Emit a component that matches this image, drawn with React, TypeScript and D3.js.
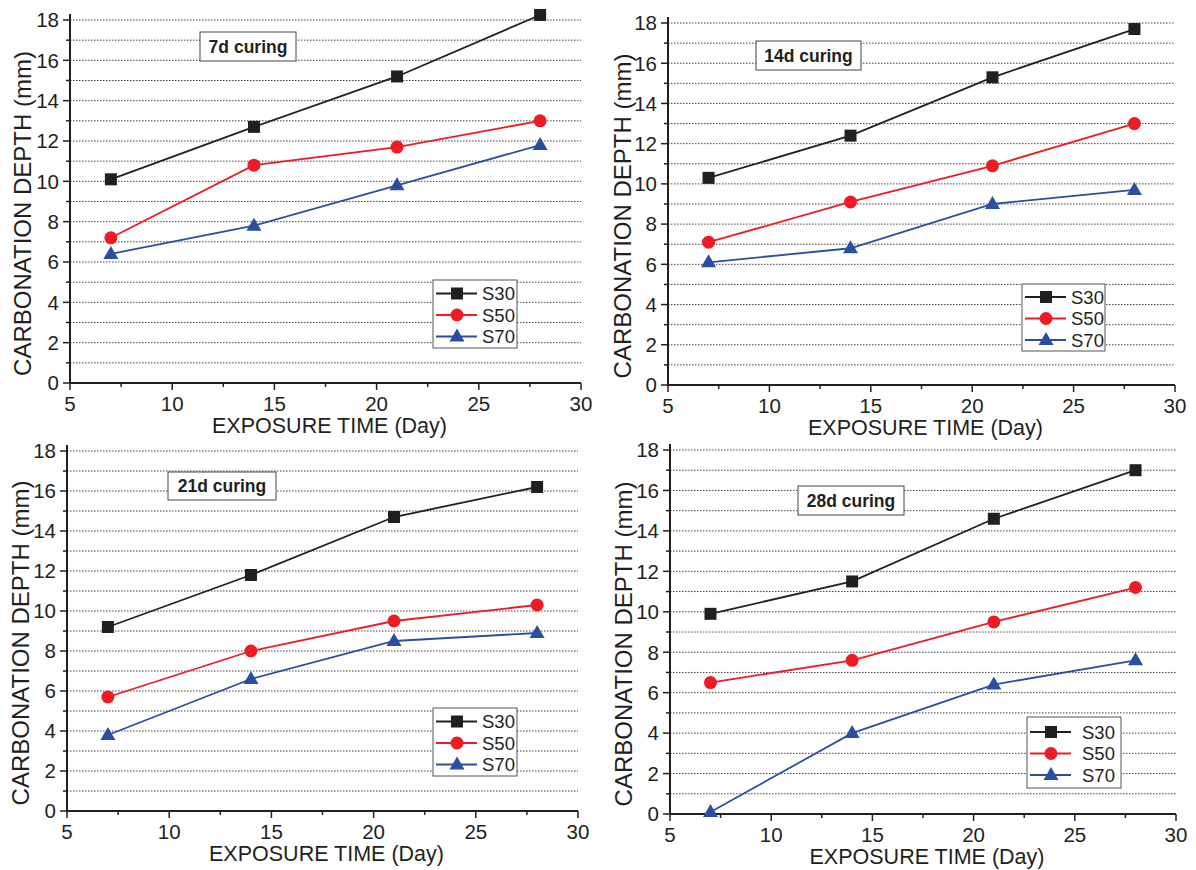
import React from "react";
import * as d3 from "d3";

const exposureDays = [7, 14, 21, 28];
const seriesNames = ["S30", "S50", "S70"];
const panelTitles = ["7d curing", "14d curing", "21d curing", "28d curing"];
const xTicks = [5, 10, 15, 20, 25, 30];
const yTicks = [0, 2, 4, 6, 8, 10, 12, 14, 16, 18];

const cure7_S30 = [10.1, 12.7, 15.2, 18.25];
const cure7_S50 = [7.2, 10.8, 11.7, 13.0];
const cure7_S70 = [6.4, 7.8, 9.8, 11.8];

const cure14_S30 = [10.3, 12.4, 15.3, 17.7];
const cure14_S50 = [7.1, 9.1, 10.9, 13.0];
const cure14_S70 = [6.1, 6.8, 9.0, 9.7];

const cure21_S30 = [9.2, 11.8, 14.7, 16.2];
const cure21_S50 = [5.7, 8.0, 9.5, 10.3];
const cure21_S70 = [3.8, 6.6, 8.5, 8.9];

const cure28_S30 = [9.9, 11.5, 14.6, 17.0];
const cure28_S50 = [6.5, 7.6, 9.5, 11.2];
const cure28_S70 = [0.1, 4.0, 6.4, 7.6];

const colors = ["#231f20", "#ed1c24", "#2b4ea0"];
const FONT = "Arial, 'Liberation Sans', Helvetica, sans-serif";

type Layout = {
  x0: number; x1: number; yT: number; yB: number;
  title: [number, number, number, number];
  legend: [number, number, number, number];
  legendText: number;
  yLabX: number;
};

const layouts: Layout[] = [
  { x0: 70, x1: 581, yT: 20, yB: 383, title: [200, 32, 96, 29], legend: [433, 280, 84, 68], legendText: 49, yLabX: 22 },
  { x0: 668, x1: 1175, yT: 23, yB: 385, title: [756, 41, 105, 29], legend: [1022, 284, 83, 67], legendText: 49, yLabX: 622 },
  { x0: 67, x1: 578, yT: 451, yB: 811, title: [168, 472, 108, 28], legend: [433, 708, 84, 68], legendText: 49, yLabX: 20 },
  { x0: 670, x1: 1176, yT: 450, yB: 814, title: [798, 486, 106, 29], legend: [1027, 717, 94, 71], legendText: 55, yLabX: 623 },
];

const panelData = [
  [cure7_S30, cure7_S50, cure7_S70],
  [cure14_S30, cure14_S50, cure14_S70],
  [cure21_S30, cure21_S50, cure21_S70],
  [cure28_S30, cure28_S50, cure28_S70],
];

function Marker({ kind, x, y, color }: { kind: number; x: number; y: number; color: string }) {
  if (kind === 0) return <rect x={x - 6} y={y - 6} width={12} height={12} fill={color} />;
  if (kind === 1) return <circle cx={x} cy={y} r={6.5} fill={color} />;
  return <path d={`M${x},${y - 8} L${x + 7.5},${y + 5} L${x - 7.5},${y + 5} Z`} fill={color} />;
}

function Panel({ idx }: { idx: number }) {
  const L = layouts[idx];
  const x = d3.scaleLinear().domain([5, 30]).range([L.x0, L.x1]);
  const y = d3.scaleLinear().domain([0, 18]).range([L.yB, L.yT]);
  const line = d3.line<number>().x((_, i) => x(exposureDays[i])).y((v) => y(v));
  const grid = d3.range(1, 19);
  const minorX = d3.range(7.5, 30, 5);
  const [tx, ty, tw, th] = L.title;
  const [lx, ly, lw, lh] = L.legend;
  return (
    <g>
      {grid.map((g) => (
        <line key={"g" + g} x1={L.x0} x2={L.x1} y1={y(g)} y2={y(g)} stroke="#444" strokeWidth={1} strokeDasharray="1.5,1.5" />
      ))}
      {d3.range(0, 19).map((t) => (
        <line key={"yt" + t} x1={L.x0 - (t % 2 === 0 ? 7 : 4)} x2={L.x0} y1={y(t)} y2={y(t)} stroke="#231f20" strokeWidth={1.5} />
      ))}
      {yTicks.map((t) => (
        <text key={"yl" + t} x={L.x0 - 11} y={y(t)} dy="0.36em" textAnchor="end" fontSize={20.5} fontFamily={FONT} fill="#231f20">{t}</text>
      ))}
      {xTicks.map((t) => (
        <line key={"xt" + t} x1={x(t)} x2={x(t)} y1={L.yB} y2={L.yB + 7} stroke="#231f20" strokeWidth={1.5} />
      ))}
      {minorX.map((t) => (
        <line key={"xm" + t} x1={x(t)} x2={x(t)} y1={L.yB} y2={L.yB + 4} stroke="#231f20" strokeWidth={1.5} />
      ))}
      {xTicks.map((t) => (
        <text key={"xl" + t} x={x(t)} y={L.yB + 28} textAnchor="middle" fontSize={20.5} fontFamily={FONT} fill="#231f20">{t}</text>
      ))}
      <line x1={L.x0} x2={L.x0} y1={L.yT - 6} y2={L.yB} stroke="#231f20" strokeWidth={2} />
      <line x1={L.x0} x2={L.x1} y1={L.yB} y2={L.yB} stroke="#231f20" strokeWidth={2} />
      <text x={(L.x0 + L.x1) / 2 + 4} y={L.yB + 50} textAnchor="middle" fontSize={21.5} fontFamily={FONT} fill="#231f20">EXPOSURE TIME (Day)</text>
      <text transform={`translate(${L.yLabX + 9},${(L.yT + L.yB) / 2 + 12}) rotate(-90)`} textAnchor="middle" fontSize={24} fontFamily={FONT} fill="#231f20">CARBONATION DEPTH (mm)</text>
      {panelData[idx].map((vals, s) => (
        <g key={"s" + s}>
          <path d={line(vals) || ""} fill="none" stroke={colors[s]} strokeWidth={1.8} />
          {vals.map((v, i) => (
            <Marker key={i} kind={s} x={x(exposureDays[i])} y={y(v)} color={colors[s]} />
          ))}
        </g>
      ))}
      <rect x={tx} y={ty} width={tw} height={th} fill="#fff" stroke="#444" strokeWidth={1} />
      <text x={tx + tw / 2} y={ty + th / 2} dy="0.36em" textAnchor="middle" fontSize={17.5} fontWeight="bold" fontFamily={FONT} fill="#231f20">{panelTitles[idx]}</text>
      <rect x={lx} y={ly} width={lw} height={lh} fill="#fff" stroke="#555" strokeWidth={1} />
      {seriesNames.map((n, s) => {
        const cy = ly + lh / 2 + (s - 1) * 21.5 + 1;
        return (
          <g key={"lg" + s}>
            <line x1={lx + 3} x2={lx + 44} y1={cy} y2={cy} stroke={colors[s]} strokeWidth={1.8} />
            <Marker kind={s} x={lx + 24} y={cy} color={colors[s]} />
            <text x={lx + L.legendText} y={cy} dy="0.36em" fontSize={18.5} fontFamily={FONT} fill="#231f20">{n}</text>
          </g>
        );
      })}
    </g>
  );
}

export default function App() {
  return (
    <svg width={1196} height={870} style={{ position: "absolute", left: 0, top: 0, background: "#fff" }}>
      <rect x={0} y={0} width={1196} height={870} fill="#fff" />
      {[0, 1, 2, 3].map((i) => (
        <Panel key={i} idx={i} />
      ))}
    </svg>
  );
}
